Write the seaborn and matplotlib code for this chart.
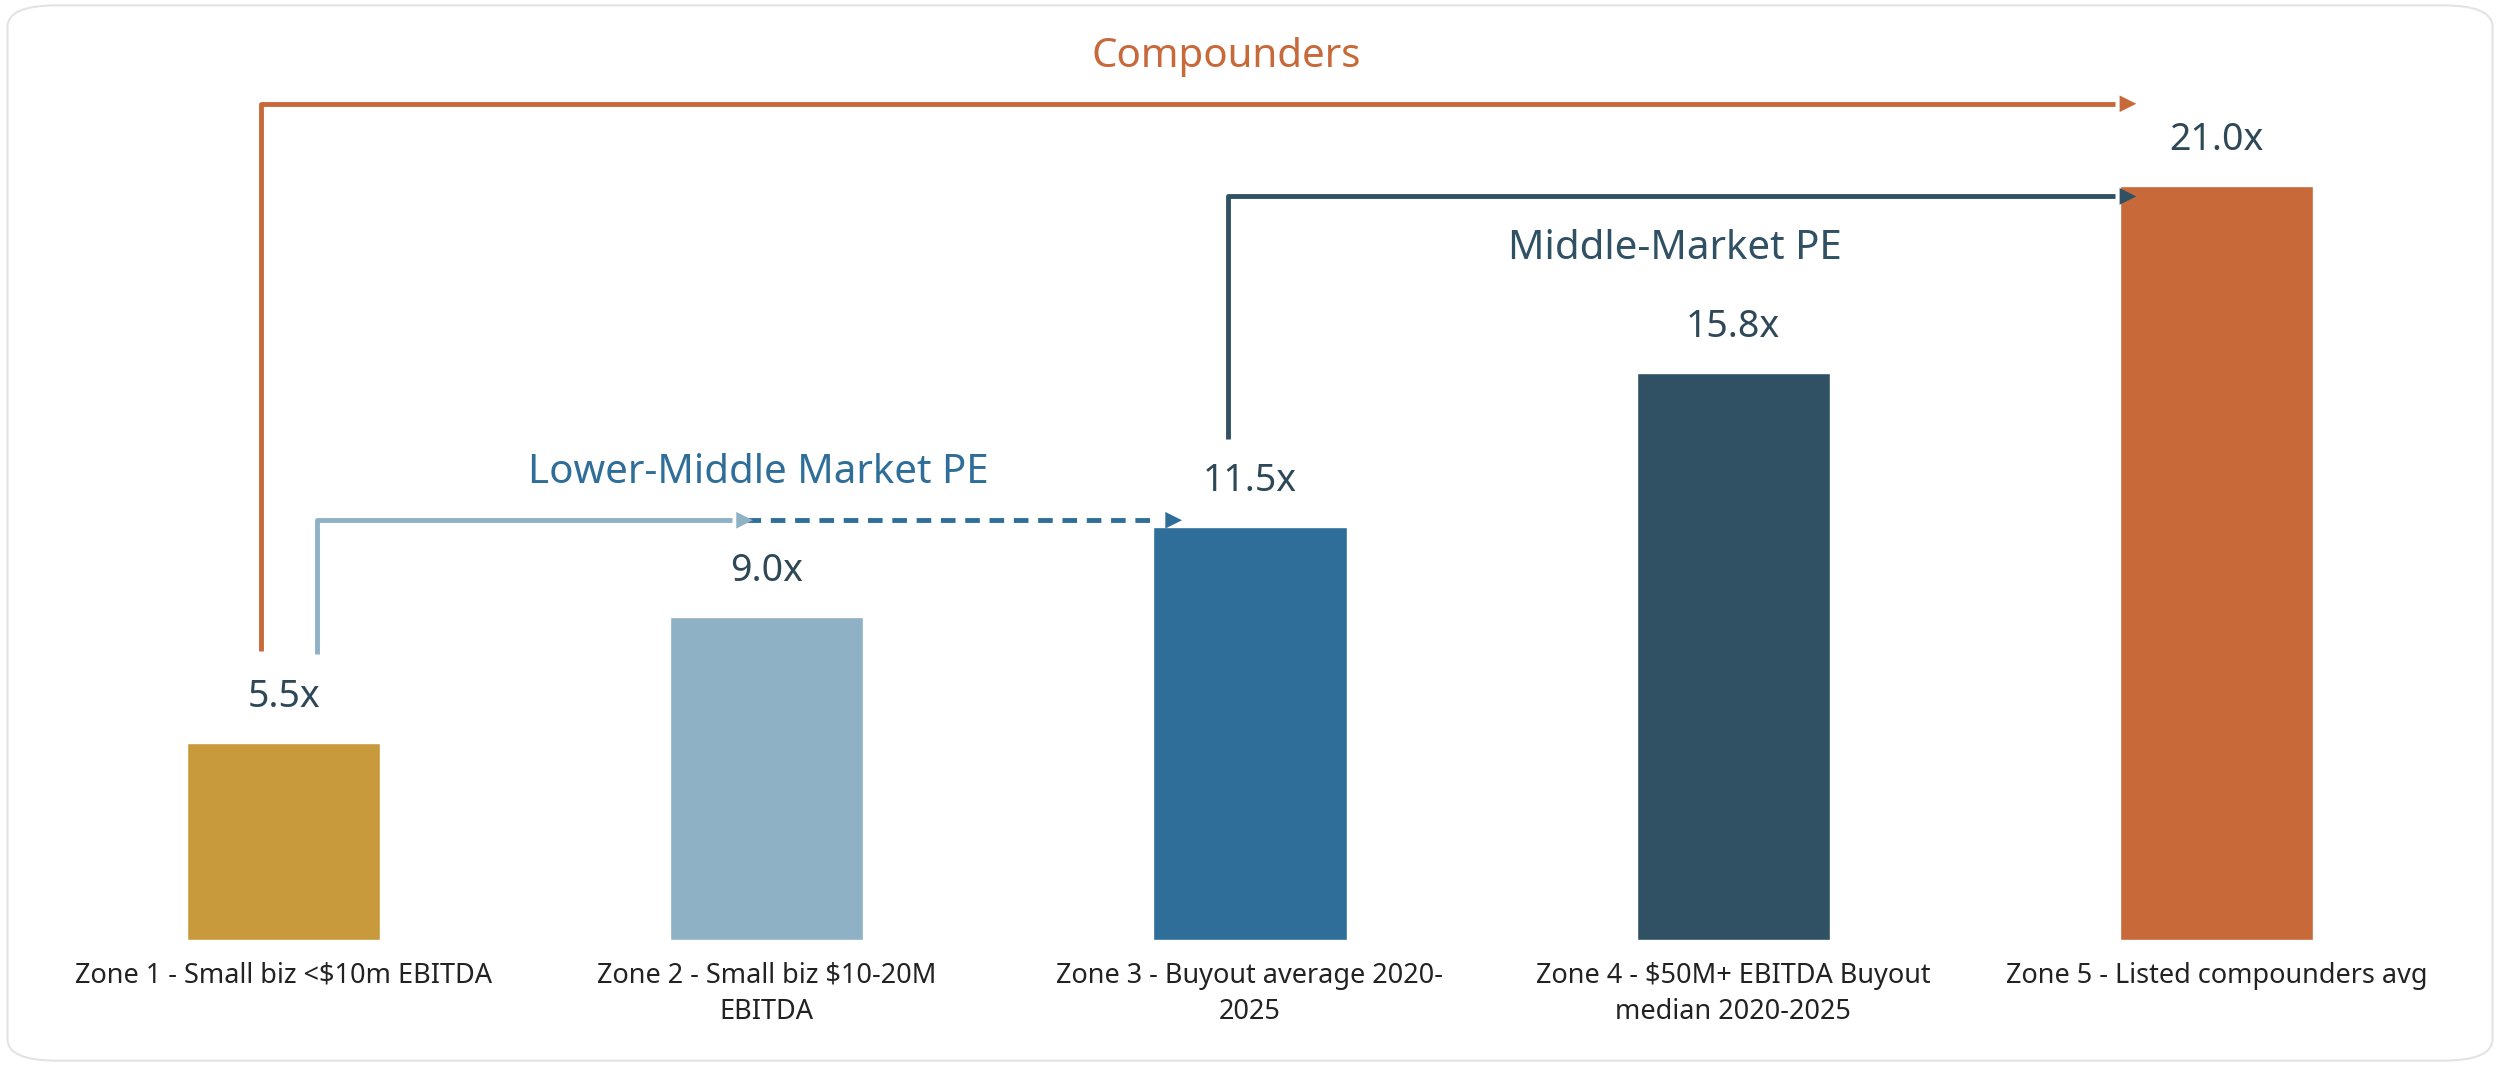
import matplotlib
matplotlib.use("Agg")
import matplotlib.pyplot as plt
import seaborn as sns
import pandas as pd
from matplotlib.patches import FancyBboxPatch

zones = [
    "Zone 1 - Small biz <$10m EBITDA",
    "Zone 2 - Small biz $10-20M\nEBITDA",
    "Zone 3 - Buyout average 2020-\n2025",
    "Zone 4 - $50M+ EBITDA Buyout\nmedian 2020-2025",
    "Zone 5 - Listed compounders avg",
]
multiples = [5.5, 9.0, 11.5, 15.8, 21.0]
bar_colors = ["#C99A3C", "#8FB1C5", "#2E6E99", "#2F5163", "#C8693A"]

df = pd.DataFrame({"zone": zones, "multiple": multiples})

sns.set_theme(style="white")
plt.rcParams["font.family"] = ["Noto Sans", "DejaVu Sans"]

fig = plt.figure(figsize=(25, 10.66), dpi=100)
ax = fig.add_axes([0, 0, 1, 1])
sns.barplot(data=df, x="zone", y="multiple", hue="zone", palette=bar_colors,
            legend=False, width=0.4, saturation=1, ax=ax)
ax.set_xlim(-0.587, 4.587)
ax.set_ylim(-3.51, 26.18)
ax.axis("off")

label_color = "#2F4858"
for i, v in enumerate(multiples):
    ax.text(i, v + 0.75, f"{v:.1f}x", ha="center", va="bottom",
            fontsize=27, color=label_color)
    ax.text(i, -0.6, zones[i], ha="center", va="top", fontsize=19.5,
            color="#222222", linespacing=1.4)

orange, dark, light, mid = "#C8693A", "#2F5163", "#8FB1C5", "#2E6E99"

def elbow(x0, y0, y1, x1, color, ls="-"):
    ax.plot([x0, x0, x1 - 0.03], [y0, y1, y1], color=color, lw=3.5,
            ls=ls, solid_capstyle="butt")
    ax.annotate("", xy=(x1 + 0.02, y1), xytext=(x1 - 0.05, y1),
                arrowprops=dict(arrowstyle="-|>,head_width=0.5,head_length=1.0",
                                color=color, lw=0))

# Compounders
elbow(-0.046, 8.04, 23.29, 3.82, orange)
ax.text(1.95, 24.6, "Compounders", ha="center", va="center", fontsize=29,
        fontweight="bold", color=orange)
# Middle-Market PE
elbow(1.954, 13.96, 20.71, 3.82, dark)
ax.text(2.88, 19.24, "Middle-Market PE", ha="center", va="center", fontsize=29,
        fontweight="bold", color=dark)
# Lower-Middle Market PE
elbow(0.069, 7.96, 11.69, 0.957, light)
ax.plot([0.957, 1.80], [11.69, 11.69], color=mid, lw=3.5, ls=(0, (3, 2)))
ax.annotate("", xy=(1.865, 11.69), xytext=(1.80, 11.69),
            arrowprops=dict(arrowstyle="-|>,head_width=0.5,head_length=1.0",
                            color=mid, lw=0))
ax.text(0.983, 13.02, "Lower-Middle Market PE", ha="center", va="center",
        fontsize=29, fontweight="bold", color=mid)

fig.patches.append(FancyBboxPatch((0.003, 0.005), 0.994, 0.99,
                                  boxstyle="round,pad=0,rounding_size=0.02",
                                  transform=fig.transFigure, fill=False,
                                  ec="#E3E3E3", lw=1.5))
fig.savefig("out.png", dpi=100, facecolor="white")
